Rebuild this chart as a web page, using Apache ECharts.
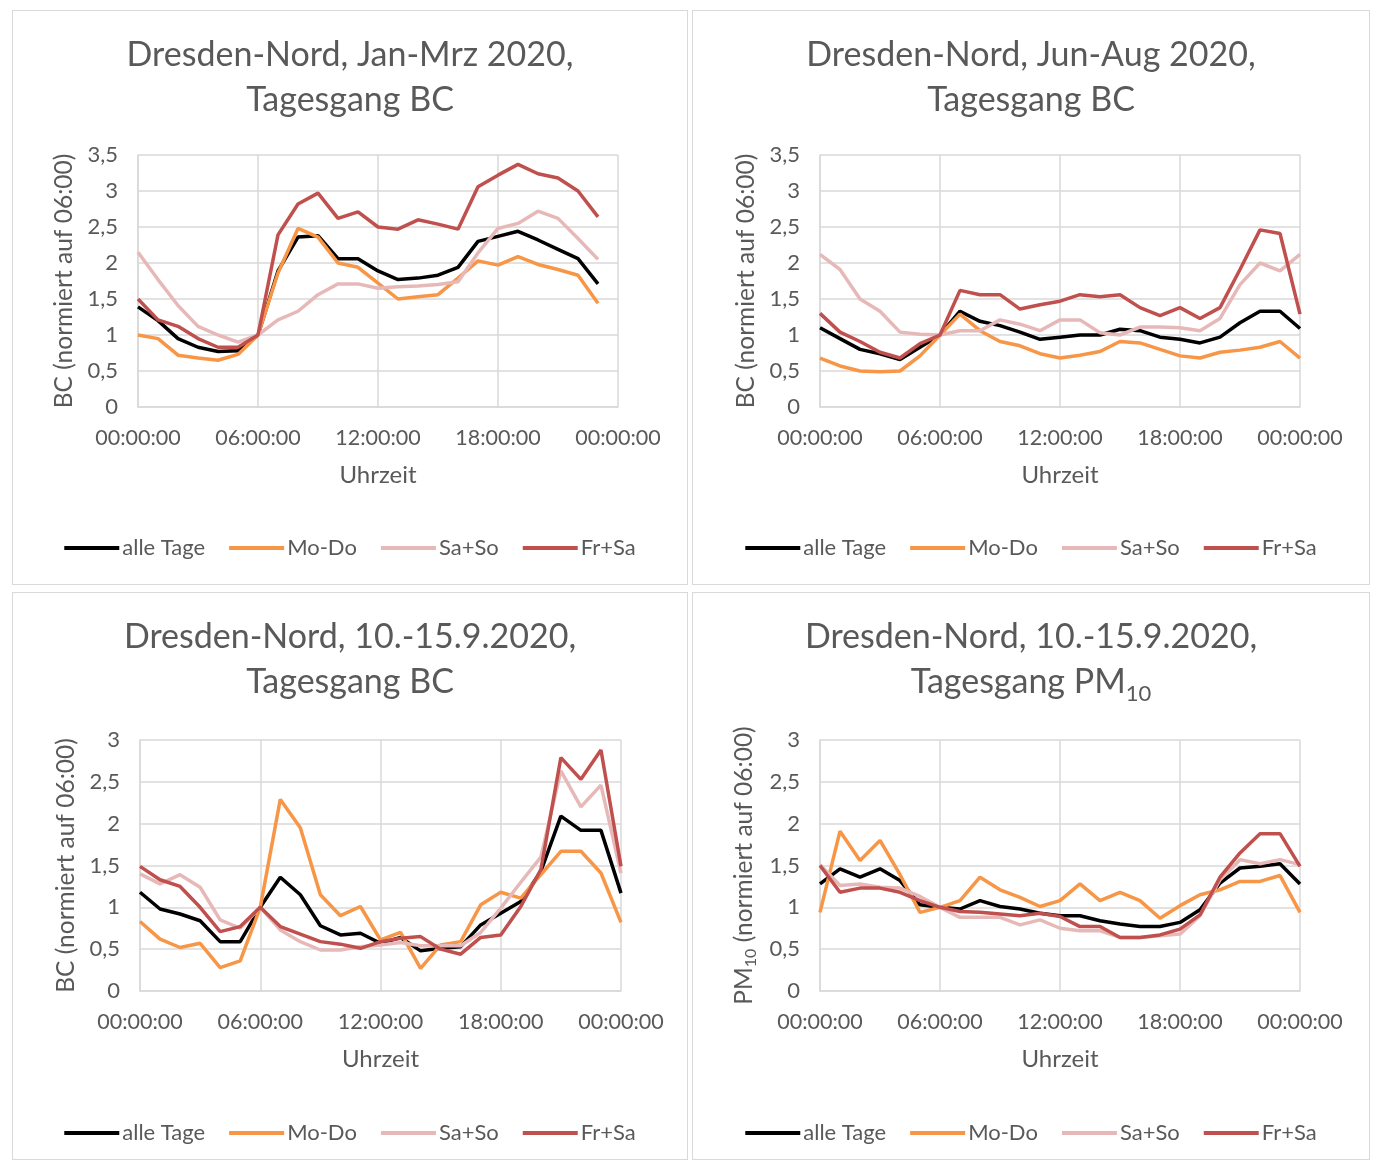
<!DOCTYPE html>
<html>
<head>
<meta charset="utf-8">
<title>Dresden-Nord Tagesgang</title>
<script src="https://cdn.jsdelivr.net/npm/echarts@6/dist/echarts.min.js"></script>
<style>
  html, body { margin: 0; padding: 0; background: #fff; }
  body { width: 1375px; height: 1162px; position: relative; }
  .box { position: absolute; box-sizing: border-box; border: 1.5px solid #d9d9d9; background: #fff; }
</style>
</head>
<body>
<div id="p1" class="box" style="left:12px;top:10px;width:676px;height:575px"></div>
<div id="p2" class="box" style="left:692px;top:10px;width:678px;height:575px"></div>
<div id="p3" class="box" style="left:12px;top:592px;width:676px;height:568px"></div>
<div id="p4" class="box" style="left:692px;top:592px;width:678px;height:568px"></div>
<script>
// Stunde des Tages (x-Werte)
const hours = [0, 1, 2, 3, 4, 5, 6, 7, 8, 9, 10, 11, 12, 13, 14, 15, 16, 17, 18, 19, 20, 21, 22, 23, 24];
const xTickLabels = ['00:00:00', '06:00:00', '12:00:00', '18:00:00', '00:00:00'];
const seriesNames = ['alle Tage', 'Mo-Do', 'Sa+So', 'Fr+Sa'];
const seriesColors = ['#000000', '#f79646', '#e6b9b8', '#c0504d'];

// Jan-Mrz 2020, BC (0-23 Uhr)
const janMrzAlle = [1.39, 1.2, 0.95, 0.83, 0.77, 0.78, 1.0, 1.89, 2.36, 2.38, 2.06, 2.06, 1.89, 1.77, 1.79, 1.83, 1.94, 2.3, 2.37, 2.44, 2.32, 2.19, 2.06, 1.71];
const janMrzMoDo = [1.0, 0.95, 0.72, 0.68, 0.65, 0.73, 1.0, 1.86, 2.48, 2.36, 2.0, 1.94, 1.72, 1.5, 1.53, 1.56, 1.79, 2.03, 1.97, 2.09, 1.98, 1.91, 1.83, 1.44];
const janMrzSaSo = [2.15, 1.77, 1.41, 1.12, 1.0, 0.9, 1.0, 1.21, 1.33, 1.56, 1.71, 1.71, 1.65, 1.67, 1.68, 1.7, 1.74, 2.14, 2.48, 2.55, 2.72, 2.62, 2.34, 2.05];
const janMrzFrSa = [1.5, 1.21, 1.12, 0.95, 0.83, 0.83, 1.0, 2.39, 2.82, 2.97, 2.62, 2.71, 2.5, 2.47, 2.6, 2.54, 2.47, 3.06, 3.22, 3.37, 3.24, 3.18, 3.0, 2.64];

// Jun-Aug 2020, BC (0-24 Uhr)
const junAugAlle = [1.1, 0.95, 0.8, 0.74, 0.66, 0.83, 1.0, 1.33, 1.19, 1.13, 1.04, 0.94, 0.97, 1.0, 1.0, 1.08, 1.06, 0.97, 0.94, 0.89, 0.97, 1.17, 1.33, 1.33, 1.09];
const junAugMoDo = [0.68, 0.57, 0.5, 0.49, 0.5, 0.71, 1.0, 1.29, 1.06, 0.91, 0.85, 0.74, 0.68, 0.72, 0.77, 0.91, 0.89, 0.8, 0.71, 0.68, 0.76, 0.79, 0.83, 0.91, 0.68];
const junAugSaSo = [2.12, 1.91, 1.5, 1.33, 1.04, 1.01, 1.0, 1.06, 1.06, 1.21, 1.15, 1.06, 1.21, 1.21, 1.03, 1.0, 1.11, 1.11, 1.1, 1.06, 1.23, 1.7, 2.0, 1.89, 2.12];
const junAugFrSa = [1.3, 1.04, 0.91, 0.76, 0.68, 0.88, 1.0, 1.62, 1.56, 1.56, 1.36, 1.42, 1.47, 1.56, 1.53, 1.56, 1.38, 1.27, 1.38, 1.23, 1.38, 1.91, 2.46, 2.41, 1.29];

// 10.-15.9.2020, BC (0-24 Uhr)
const sepBcAlle = [1.18, 0.98, 0.92, 0.84, 0.59, 0.59, 1.0, 1.36, 1.15, 0.78, 0.67, 0.69, 0.57, 0.64, 0.48, 0.51, 0.53, 0.79, 0.93, 1.07, 1.43, 2.09, 1.92, 1.92, 1.17];
const sepBcMoDo = [0.83, 0.62, 0.52, 0.57, 0.28, 0.36, 1.0, 2.29, 1.95, 1.15, 0.9, 1.01, 0.61, 0.7, 0.27, 0.55, 0.59, 1.03, 1.18, 1.11, 1.39, 1.67, 1.67, 1.41, 0.82];
const sepBcSaSo = [1.4, 1.28, 1.39, 1.24, 0.85, 0.75, 1.0, 0.73, 0.59, 0.49, 0.49, 0.53, 0.55, 0.58, 0.54, 0.54, 0.54, 0.7, 0.99, 1.3, 1.6, 2.63, 2.2, 2.46, 1.41];
const sepBcFrSa = [1.49, 1.33, 1.25, 1.0, 0.71, 0.77, 1.0, 0.77, 0.68, 0.59, 0.56, 0.51, 0.59, 0.63, 0.65, 0.5, 0.44, 0.64, 0.67, 1.01, 1.45, 2.79, 2.53, 2.88, 1.49];

// 10.-15.9.2020, PM10 (0-24 Uhr)
const sepPmAlle = [1.28, 1.46, 1.36, 1.46, 1.32, 1.03, 1.0, 0.98, 1.08, 1.01, 0.98, 0.93, 0.9, 0.9, 0.84, 0.8, 0.77, 0.77, 0.82, 0.97, 1.29, 1.47, 1.49, 1.52, 1.28];
const sepPmMoDo = [0.94, 1.91, 1.56, 1.8, 1.39, 0.94, 1.0, 1.08, 1.36, 1.21, 1.12, 1.01, 1.08, 1.28, 1.08, 1.18, 1.08, 0.87, 1.02, 1.15, 1.21, 1.31, 1.31, 1.38, 0.94];
const sepPmSaSo = [1.51, 1.26, 1.28, 1.24, 1.23, 1.13, 1.0, 0.88, 0.88, 0.88, 0.79, 0.85, 0.75, 0.72, 0.72, 0.64, 0.64, 0.66, 0.68, 0.9, 1.33, 1.57, 1.52, 1.57, 1.51];
const sepPmFrSa = [1.5, 1.18, 1.23, 1.23, 1.18, 1.08, 1.0, 0.95, 0.94, 0.92, 0.9, 0.93, 0.89, 0.77, 0.77, 0.64, 0.64, 0.67, 0.74, 0.91, 1.36, 1.65, 1.88, 1.88, 1.49];

const FONT = 'Lato, "Open Sans", sans-serif';
const TXT = '#595959';
const GRID = '#d9d9d9';

function makeOption(p) {
  return {
    animation: false,
    textStyle: { fontFamily: FONT, color: TXT },
    title: {
      left: 'center',
      top: 17,
      text: p.title,
      textStyle: {
        fontFamily: FONT, fontWeight: 'normal', fontSize: 34, color: TXT, lineHeight: 45,
        rich: {
          t: { fontFamily: FONT, fontSize: 34, color: TXT, lineHeight: 45 },
          s: { fontFamily: FONT, fontSize: 22, color: TXT, lineHeight: 45, verticalAlign: 'bottom', padding: [16, 0, 0, 0] }
        }
      }
    },
    legend: {
      top: p.legendTop,
      left: 'center',
      icon: 'rect',
      itemWidth: 55,
      itemHeight: 4,
      itemGap: 24,
      textStyle: { fontFamily: FONT, fontSize: 22, color: TXT, padding: [0, 0, 0, -2] },
      data: seriesNames
    },
    grid: { left: p.grid[0], top: p.grid[1], width: p.grid[2], height: p.grid[3] },
    xAxis: {
      type: 'value',
      min: 0, max: 24, interval: 6,
      name: 'Uhrzeit',
      nameLocation: 'middle',
      nameGap: 56,
      nameTextStyle: { fontFamily: FONT, fontSize: 24, color: TXT },
      axisLine: { lineStyle: { color: GRID, width: 1.5 } },
      axisTick: { show: false },
      splitLine: { show: true, lineStyle: { color: GRID, width: 1.5 } },
      axisLabel: {
        margin: 20, fontFamily: FONT, fontSize: 21.5, color: TXT,
        formatter: v => xTickLabels[Math.round(v / 6)]
      }
    },
    yAxis: {
      type: 'value',
      min: 0, max: p.yMax, interval: 0.5,
      name: p.yName,
      nameLocation: 'middle',
      nameRotate: 90,
      nameGap: 61,
      nameTextStyle: {
        fontFamily: FONT, fontSize: 24.5, color: TXT,
        rich: {
          a: { fontFamily: FONT, fontSize: 24.5, color: TXT },
          s: { fontFamily: FONT, fontSize: 16, color: TXT, verticalAlign: 'bottom', padding: [12, 0, 0, 0] }
        }
      },
      axisLine: { show: true, lineStyle: { color: GRID, width: 1.5 } },
      axisTick: { show: false },
      splitLine: { lineStyle: { color: GRID, width: 1.5 } },
      axisLabel: {
        margin: 20, fontFamily: FONT, fontSize: 22, color: TXT,
        formatter: v => String(v).replace('.', ',')
      }
    },
    series: p.data.map((vals, i) => ({
      name: seriesNames[i],
      type: 'line',
      symbol: 'none',
      color: seriesColors[i],
      lineStyle: { width: 3.5, color: seriesColors[i] },
      data: vals.map((v, k) => [hours[k], v])
    }))
  };
}

const panels = [
  { id: 'p1', title: 'Dresden-Nord, Jan-Mrz 2020,\nTagesgang BC', yName: 'BC (normiert auf 06:00)', yMax: 3.5,
    grid: [125, 144, 480, 252], legendTop: 521, data: [janMrzAlle, janMrzMoDo, janMrzSaSo, janMrzFrSa] },
  { id: 'p2', title: 'Dresden-Nord, Jun-Aug 2020,\nTagesgang BC', yName: 'BC (normiert auf 06:00)', yMax: 3.5,
    grid: [127, 144, 480, 252], legendTop: 521, data: [junAugAlle, junAugMoDo, junAugSaSo, junAugFrSa] },
  { id: 'p3', title: 'Dresden-Nord, 10.-15.9.2020,\nTagesgang BC', yName: 'BC (normiert auf 06:00)', yMax: 3,
    grid: [127, 147, 481, 251], legendTop: 524, data: [sepBcAlle, sepBcMoDo, sepBcSaSo, sepBcFrSa] },
  { id: 'p4', title: '{t|Dresden-Nord, 10.-15.9.2020,}\n{t|Tagesgang PM}{s|10}', yName: '{a|PM}{s|10}{a| (normiert auf 06:00)}', yMax: 3,
    grid: [127, 147, 480, 251], legendTop: 524, data: [sepPmAlle, sepPmMoDo, sepPmSaSo, sepPmFrSa] }
];

panels.forEach(p => {
  const chart = echarts.init(document.getElementById(p.id), null, { renderer: 'canvas' });
  chart.setOption(makeOption(p));
});
</script>
</body>
</html>
